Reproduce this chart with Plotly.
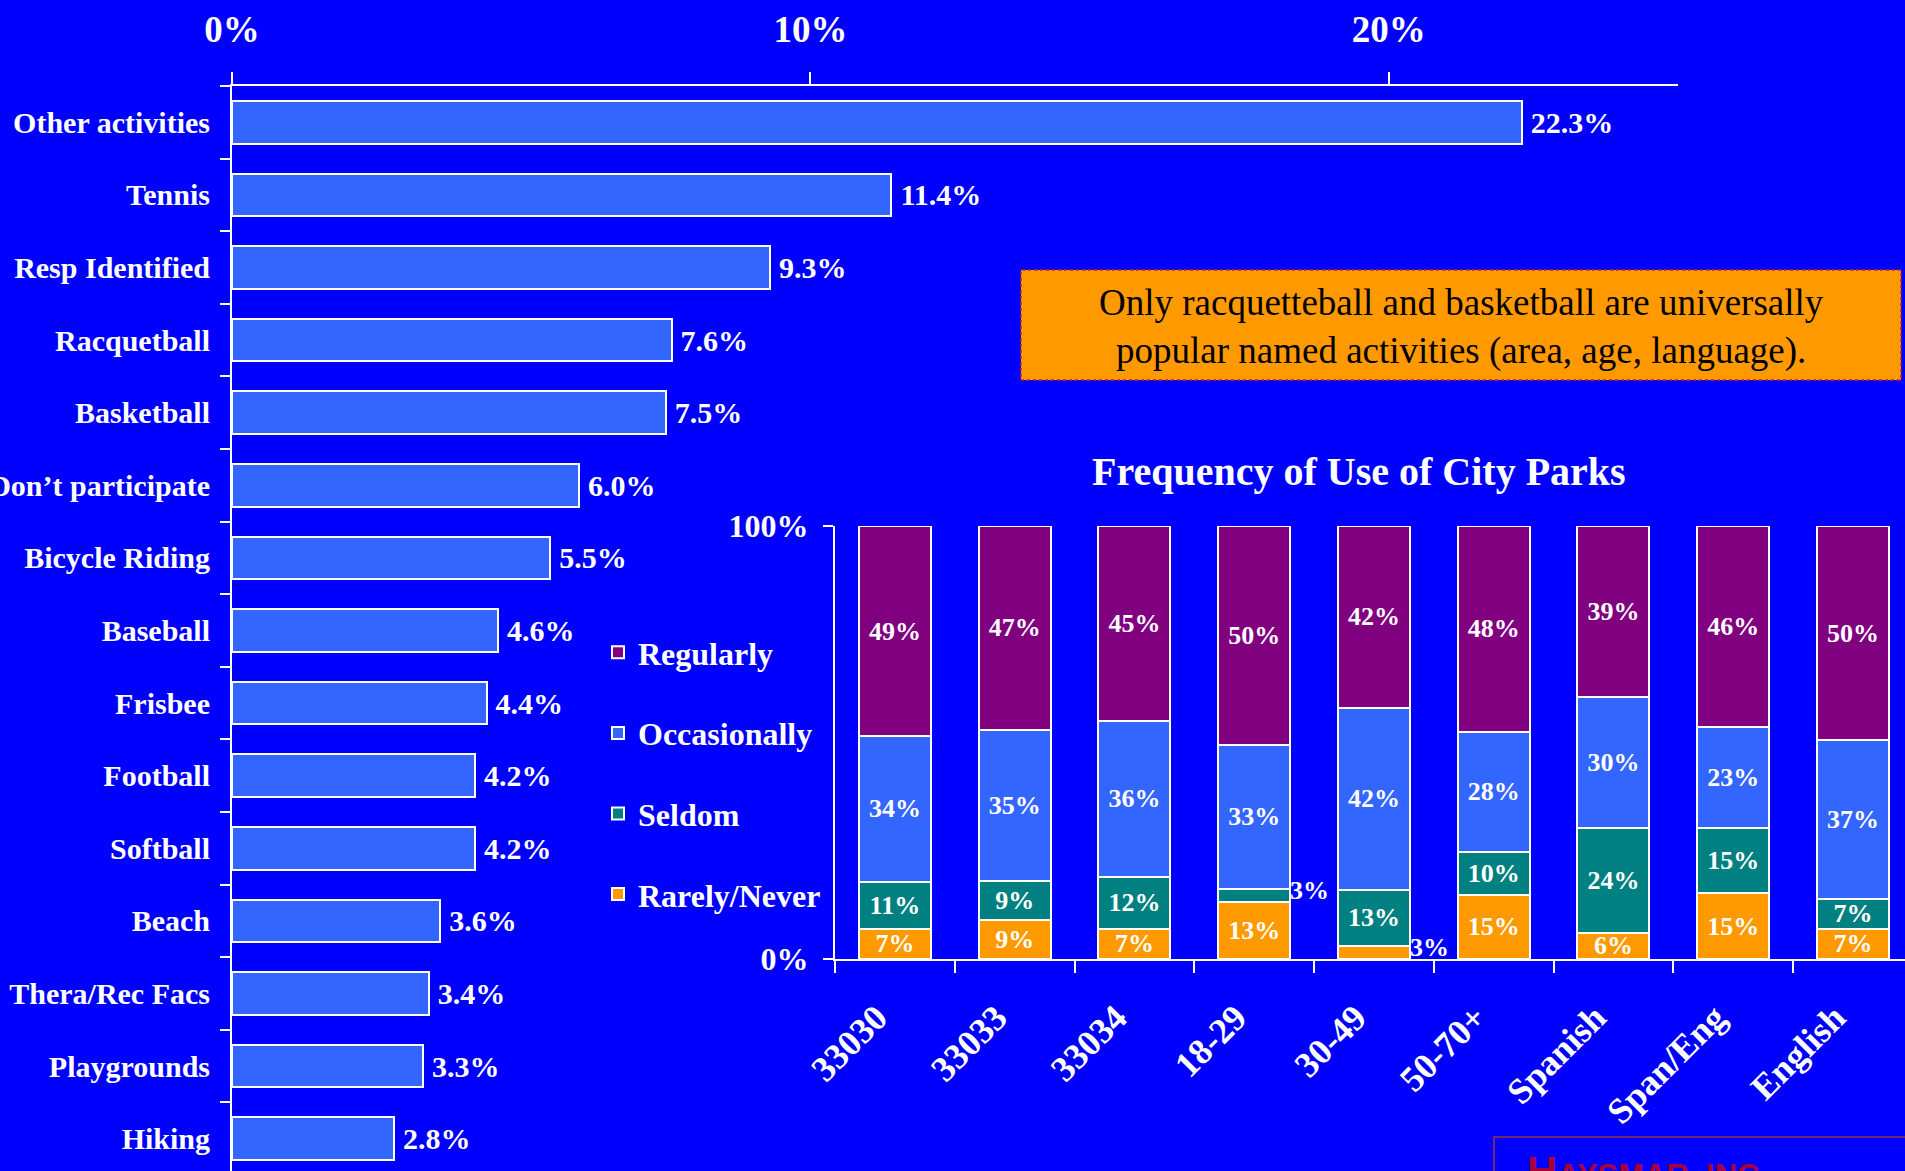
import plotly.graph_objects as go

# ---------------- data ----------------
activities = ["Other activities", "Tennis", "Resp Identified", "Racquetball", "Basketball",
              "Don’t participate", "Bicycle Riding", "Baseball", "Frisbee", "Football",
              "Softball", "Beach", "Thera/Rec Facs", "Playgrounds", "Hiking"]
shares = [22.3, 11.4, 9.3, 7.6, 7.5, 6.0, 5.5, 4.6, 4.4, 4.2, 4.2, 3.6, 3.4, 3.3, 2.8]

groups = ["33030", "33033", "33034", "18-29", "30-49", "50-70+", "Spanish", "Span/Eng", "English"]
rarely = [7, 9, 7, 13, 3, 15, 6, 15, 7]
seldom = [11, 9, 12, 3, 13, 10, 24, 15, 7]
occasionally = [34, 35, 36, 33, 42, 28, 30, 23, 37]
regularly = [49, 47, 45, 50, 42, 48, 39, 46, 50]

x_ticks = [0, 10, 20]
x_ticktext = ["0%", "10%", "20%"]
y2_ticks = [0, 100]
y2_ticktext = ["0%", "100%"]

note_text = "Only racquetteball and basketball are universally<br>popular named activities (area, age, language)."
chart2_title = "Frequency of Use of City Parks"
brand = "H<span style='font-size:31px'>AYSMAR, INC.</span>"

# ---------------- style ----------------
W, H = 1905, 1171
BG = "#0000FF"
SERIF = "Liberation Serif, Times New Roman, serif"
WHITE = "#FFFFFF"

def px_x(v):
    return v / W

def px_y(v):
    return 1 - v / H

fig = go.Figure()

fig.add_trace(go.Bar(
    y=activities, x=shares, orientation="h", xaxis="x", yaxis="y",
    width=0.585,
    marker=dict(color="#3366FF", line=dict(color=WHITE, width=2)),
    text=[f"\u2009{v:.1f}%" for v in shares], textposition="outside", cliponaxis=False,
    textfont=dict(family=SERIF, size=30, color=WHITE, weight="bold"),
    showlegend=False, hoverinfo="skip",
))

series = [("Rarely/Never", rarely, "#FF9900", 4),
          ("Seldom", seldom, "#008080", 3),
          ("Occasionally", occasionally, "#3366FF", 2),
          ("Regularly", regularly, "#800080", 1)]

totals = [sum(s[1][i] for s in series) for i in range(len(groups))]

for name, vals, col, rank in series:
    fig.add_trace(go.Bar(
        x=groups, y=[v * 100 / t for v, t in zip(vals, totals)], name=name,
        xaxis="x2", yaxis="y2", width=0.6,
        legendgroup=name, legendrank=rank,
        marker=dict(color=col, line=dict(color=WHITE, width=2)),
        text=[f"{v}%" if v >= 5 else "" for v in vals],
        textposition="inside", insidetextanchor="middle", constraintext="none",
        textfont=dict(family=SERIF, size=26, color=WHITE, weight="bold"),
        hoverinfo="skip",
    ))

annotations = []
# small segment labels placed beside the bar
for si, (name, vals, col, rank) in enumerate(series):
    for gi, v in enumerate(vals):
        if v < 5:
            base = sum(series[k][1][gi] for k in range(si)) * 100 / totals[gi]
            annotations.append(dict(
                x=gi + 0.3, y=base + v * 50 / totals[gi], xref="x2", yref="y2",
                text=f"{v}%", showarrow=False, xanchor="left", yanchor="middle",
                xshift=-2, yshift=5,
                font=dict(family=SERIF, size=26, color=WHITE, weight="bold")))

annotations.append(dict(
    x=px_x(1359), y=px_y(471), xref="paper", yref="paper", text=chart2_title,
    showarrow=False, xanchor="center", yanchor="middle",
    font=dict(family=SERIF, size=40, color=WHITE, weight="bold")))

annotations.append(dict(
    x=px_x(1461), y=px_y(327), xref="paper", yref="paper", text=note_text,
    showarrow=False, xanchor="center", yanchor="middle", align="center",
    font=dict(family=SERIF, size=37, color="#000000")))

annotations.append(dict(
    x=px_x(1525), y=px_y(1146), xref="paper", yref="paper", text=brand,
    showarrow=False, xanchor="left", yanchor="top",
    font=dict(family="Liberation Sans, Arial, sans-serif", size=42, color="#A8003A", weight="bold")))

shapes = [
    dict(type="rect", xref="paper", yref="paper",
         x0=px_x(1021), x1=px_x(1901), y0=px_y(380), y1=px_y(270),
         fillcolor="#FF9900", line=dict(color="#CC2200", width=1.5, dash="dot"), layer="below"),
    dict(type="rect", xref="paper", yref="paper",
         x0=px_x(1494), x1=1.02, y0=px_y(1137), y1=-0.05,
         fillcolor="rgba(0,0,0,0)", line=dict(color="#993344", width=1.5)),
]

axis_common = dict(showgrid=False, zeroline=False, showline=True, linecolor=WHITE, linewidth=2,
                   ticks="outside", tickcolor=WHITE, tickwidth=2, fixedrange=True,
                   automargin=False)

fig.update_layout(
    template="none",
    width=W, height=H, margin=dict(l=0, r=0, t=0, b=0, pad=0),
    paper_bgcolor=BG, plot_bgcolor="rgba(0,0,0,0)",
    barmode="stack",
    xaxis=dict(domain=[px_x(232), px_x(1678)], anchor="y", side="top", range=[0, 25],
               tickvals=x_ticks, ticktext=x_ticktext, ticklen=12, ticklabelstandoff=15,
               tickfont=dict(family=SERIF, size=37, color=WHITE, weight="bold"), **axis_common),
    yaxis=dict(domain=[0, px_y(86)], anchor="x", type="category",
               categoryorder="array", categoryarray=activities,
               range=[14.445, -0.5], tickson="boundaries", ticklen=10, ticklabelstandoff=14,
               tickfont=dict(family=SERIF, size=30, color=WHITE, weight="bold"), **axis_common),
    xaxis2=dict(domain=[px_x(835), 1], anchor="y2", type="category",
                categoryorder="array", categoryarray=groups,
                range=[-0.5, 8.435], tickson="boundaries", ticklen=12, tickangle=-45,
                ticklabelstandoff=21, ticklabelshift=-18,
                tickfont=dict(family=SERIF, size=36, color=WHITE, weight="bold"), **axis_common),
    yaxis2=dict(domain=[px_y(959), px_y(526)], anchor="x2", range=[0, 100],
                tickvals=y2_ticks, ticktext=y2_ticktext, ticklen=10, ticklabelstandoff=8,
                tickfont=dict(family=SERIF, size=32, color=WHITE, weight="bold"), **axis_common),
    legend=dict(x=px_x(598), y=px_y(625), xanchor="left", yanchor="top",
                traceorder="grouped", tracegroupgap=36,
                bgcolor="rgba(0,0,0,0)", borderwidth=0,
                font=dict(family=SERIF, size=32, color=WHITE, weight="bold")),
    annotations=annotations, shapes=shapes,
    showlegend=True,
)

fig.write_html("out.html", config={"displayModeBar": False},
               post_script="document.body.style.margin='0';document.body.style.overflow='hidden';")
